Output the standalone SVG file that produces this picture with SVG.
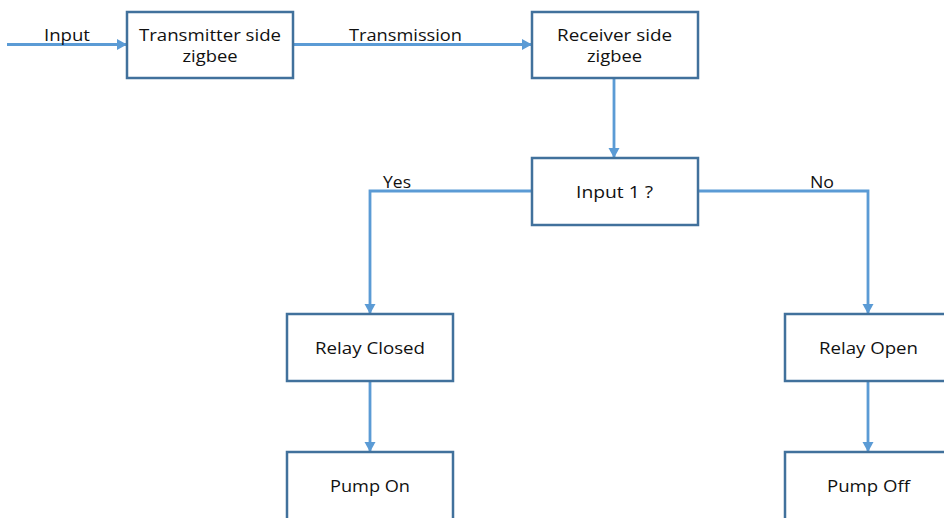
<svg xmlns="http://www.w3.org/2000/svg" width="944" height="518" viewBox="0 0 944 518">
<defs>
<style>
.box{fill:#fff;stroke:#41719C;stroke-width:2.5}
.t{font-family:"Open Sans","Liberation Sans",sans-serif;font-size:16px;fill:#111;text-anchor:middle}
.l{font-family:"Open Sans","Liberation Sans",sans-serif;font-size:16px;fill:#111}
.c{fill:none;stroke:#5B9BD5;stroke-width:2.8}
</style>
<marker id="ah" markerWidth="11" markerHeight="12" refX="9" refY="6" orient="auto" markerUnits="userSpaceOnUse">
<path d="M0,0.5 L10,6 L0,11.5 Z" fill="#5B9BD5"/>
</marker>
</defs>
<rect width="944" height="518" fill="#fff"/>
<g id="connectors">
<path class="c" d="M7,44.5 H126" marker-end="url(#ah)"/>
<path class="c" d="M294,44.5 H531" marker-end="url(#ah)"/>
<path class="c" d="M614,79 V157" marker-end="url(#ah)"/>
<path class="c" d="M531,191 H370 V313" marker-end="url(#ah)"/>
<path class="c" d="M698,191 H868 V313" marker-end="url(#ah)"/>
<path class="c" d="M370,382 V451" marker-end="url(#ah)"/>
<path class="c" d="M868,382 V451" marker-end="url(#ah)"/>
<text class="l" x="44" y="41" textLength="46" lengthAdjust="spacingAndGlyphs">Input</text>
<text class="l" x="349" y="41" textLength="113" lengthAdjust="spacingAndGlyphs">Transmission</text>
<text class="l" x="383" y="187.5" textLength="28" lengthAdjust="spacingAndGlyphs">Yes</text>
<text class="l" x="810" y="187.5" textLength="24" lengthAdjust="spacingAndGlyphs">No</text>
</g>
<g id="transmitter">
<rect class="box" x="127" y="12" width="166" height="66"/>
<text class="t" x="210" y="41" textLength="142" lengthAdjust="spacingAndGlyphs">Transmitter side</text>
<text class="t" x="210" y="62" textLength="55" lengthAdjust="spacingAndGlyphs">zigbee</text>
</g>
<g id="receiver">
<rect class="box" x="532" y="12" width="166" height="66"/>
<text class="t" x="614.5" y="41" textLength="115" lengthAdjust="spacingAndGlyphs">Receiver side</text>
<text class="t" x="614.5" y="62" textLength="55" lengthAdjust="spacingAndGlyphs">zigbee</text>
</g>
<g id="decision">
<rect class="box" x="532" y="158" width="166" height="67"/>
<text class="t" x="614.5" y="198" textLength="77" lengthAdjust="spacingAndGlyphs">Input 1 ?</text>
</g>
<g id="relay-closed">
<rect class="box" x="287" y="314" width="166" height="67"/>
<text class="t" x="370" y="354" textLength="110" lengthAdjust="spacingAndGlyphs">Relay Closed</text>
</g>
<g id="pump-on">
<rect class="box" x="287" y="452" width="166" height="80"/>
<text class="t" x="370" y="492" textLength="80" lengthAdjust="spacingAndGlyphs">Pump On</text>
</g>
<g id="relay-open">
<rect class="box" x="785" y="314" width="166" height="67"/>
<text class="t" x="868.5" y="354" textLength="99" lengthAdjust="spacingAndGlyphs">Relay Open</text>
</g>
<g id="pump-off">
<rect class="box" x="785" y="452" width="166" height="80"/>
<text class="t" x="868.5" y="492" textLength="83" lengthAdjust="spacingAndGlyphs">Pump Off</text>
</g>
</svg>
